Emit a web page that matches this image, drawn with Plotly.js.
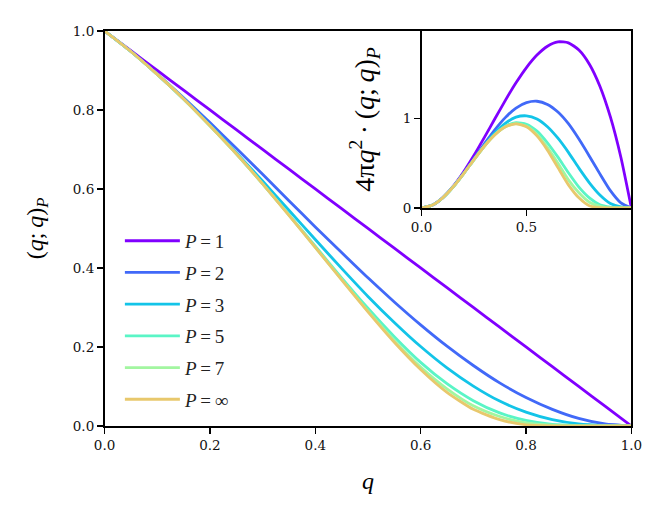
<!DOCTYPE html>
<html>
<head>
<meta charset="utf-8">
<script src="https://cdn.plot.ly/plotly-3.0.1.min.js"></script>
<style>
  body { margin: 0; background: #fff; }
  #plot { width: 666px; height: 516px; }
</style>
</head>
<body>
<div id="plot"></div>
<script>
// q grid and (q;q)_P values
var q = [0, 0.05, 0.1, 0.15, 0.2, 0.25, 0.3, 0.35, 0.4, 0.45, 0.5,
         0.55, 0.6, 0.65, 0.7, 0.75, 0.8, 0.85, 0.9, 0.95, 1];

var p1 = [1, 0.95, 0.9, 0.85, 0.8, 0.75, 0.7, 0.65, 0.6, 0.55, 0.5,
          0.45, 0.4, 0.35, 0.3, 0.25, 0.2, 0.15, 0.1, 0.05, 0];
var p2 = [1, 0.948, 0.891, 0.831, 0.768, 0.703, 0.637, 0.570, 0.504, 0.439, 0.375,
          0.314, 0.256, 0.202, 0.153, 0.109, 0.072, 0.042, 0.019, 0.005, 0];
var p3 = [1, 0.948, 0.890, 0.828, 0.762, 0.692, 0.620, 0.546, 0.472, 0.399, 0.328,
          0.262, 0.201, 0.147, 0.101, 0.063, 0.035, 0.016, 0.005, 0.001, 0];
var p5 = [1, 0.948, 0.890, 0.828, 0.760, 0.689, 0.613, 0.535, 0.455, 0.375, 0.298,
          0.226, 0.161, 0.107, 0.064, 0.033, 0.014, 0.004, 0.001, 0, 0];
var p7 = [1, 0.948, 0.890, 0.828, 0.760, 0.689, 0.613, 0.534, 0.452, 0.371, 0.291,
          0.216, 0.149, 0.094, 0.051, 0.024, 0.008, 0.002, 0, 0, 0];
var pInf = [1, 0.948, 0.890, 0.828, 0.760, 0.689, 0.613, 0.533, 0.452, 0.370, 0.289,
            0.212, 0.143, 0.085, 0.042, 0.016, 0.003, 0.0003, 0, 0, 0];

var TS = '\u2009'; // thin space, for TeX-like spacing around "="
var names = ['<i>P</i>' + TS + '=' + TS + '1', '<i>P</i>' + TS + '=' + TS + '2',
             '<i>P</i>' + TS + '=' + TS + '3', '<i>P</i>' + TS + '=' + TS + '5',
             '<i>P</i>' + TS + '=' + TS + '7', '<i>P</i>' + TS + '=' + TS + '\u221e'];
var series = [p1, p2, p3, p5, p7, pInf];
var colors = ['#8000ff', '#4169f8', '#13c4e8', '#5af5c6', '#a2f6a0', '#e8c86c'];

var FONT = "'Liberation Serif', 'DejaVu Serif', serif";
var TICKFONT = "'DejaVu Serif', 'Liberation Serif', serif";

var traces = [];
// main panel
for (var i = 0; i < series.length; i++) {
  traces.push({
    x: q, y: series[i], name: names[i], type: 'scatter', mode: 'lines',
    line: {color: colors[i], width: 2.8, shape: 'spline', smoothing: 0.6},
    legendgroup: 'g' + i, xaxis: 'x', yaxis: 'y'
  });
}
// inset: 4*pi*q^2 times the same curves
for (var i = 0; i < series.length; i++) {
  var dens = [];
  for (var k = 0; k < q.length; k++) dens.push(4 * Math.PI * q[k] * q[k] * series[i][k]);
  traces.push({
    x: q, y: dens, type: 'scatter', mode: 'lines', showlegend: false,
    line: {color: colors[i], width: 2.8, shape: 'spline', smoothing: 0.6},
    xaxis: 'x2', yaxis: 'y2'
  });
}

var axBase = {
  showgrid: false, zeroline: false, showline: true, mirror: true,
  linecolor: '#000', linewidth: 1.6, ticks: 'outside', ticklen: 6,
  tickwidth: 1.5, tickcolor: '#000',
  tickfont: {family: TICKFONT, size: 13.5, color: '#111'}
};

var layout = {
  width: 666, height: 516,
  margin: {l: 0, r: 0, t: 0, b: 0},
  paper_bgcolor: '#fff', plot_bgcolor: '#fff',
  font: {family: FONT, color: '#000'},
  showlegend: true,
  legend: {
    x: 0.18, y: 0.57, xanchor: 'left', yanchor: 'top',
    bgcolor: 'rgba(0,0,0,0)', borderwidth: 0,
    font: {family: FONT, size: 19, color: '#222'},
    itemwidth: 55,
    tracegroupgap: 4
  },
  xaxis: Object.assign({}, axBase, {
    domain: [0.157, 0.948], range: [0, 1], anchor: 'y',
    tickvals: [0, 0.2, 0.4, 0.6, 0.8, 1], tickformat: '.1f',
    title: {text: '<i>q</i>', font: {family: FONT, size: 24}, standoff: 20}
  }),
  yaxis: Object.assign({}, axBase, {
    domain: [0.1745, 0.94], range: [0, 1], anchor: 'x',
    tickvals: [0, 0.2, 0.4, 0.6, 0.8, 1], tickformat: '.1f',
    title: {text: '(<i>q</i>;' + TS + '<i>q</i>)<sub><i>P</i></sub>', font: {family: FONT, size: 24}, standoff: 22}
  }),
  xaxis2: Object.assign({}, axBase, {
    domain: [0.633, 0.948], range: [0, 1], anchor: 'y2',
    tickvals: [0, 0.5], tickformat: '.1f'
  }),
  yaxis2: Object.assign({}, axBase, {
    domain: [0.597, 0.94], range: [0, 1.98], anchor: 'x2',
    tickvals: [0, 1], tickformat: 'd',
    title: {text: '4\u03c0<i>q</i><sup>2</sup>' + TS + '\u00b7' + TS + '(<i>q</i>;' + TS + '<i>q</i>)<sub><i>P</i></sub>',
            font: {family: FONT, size: 28}, standoff: 20}
  })
};

Plotly.newPlot('plot', traces, layout, {displayModeBar: false, staticPlot: true});
</script>
</body>
</html>
